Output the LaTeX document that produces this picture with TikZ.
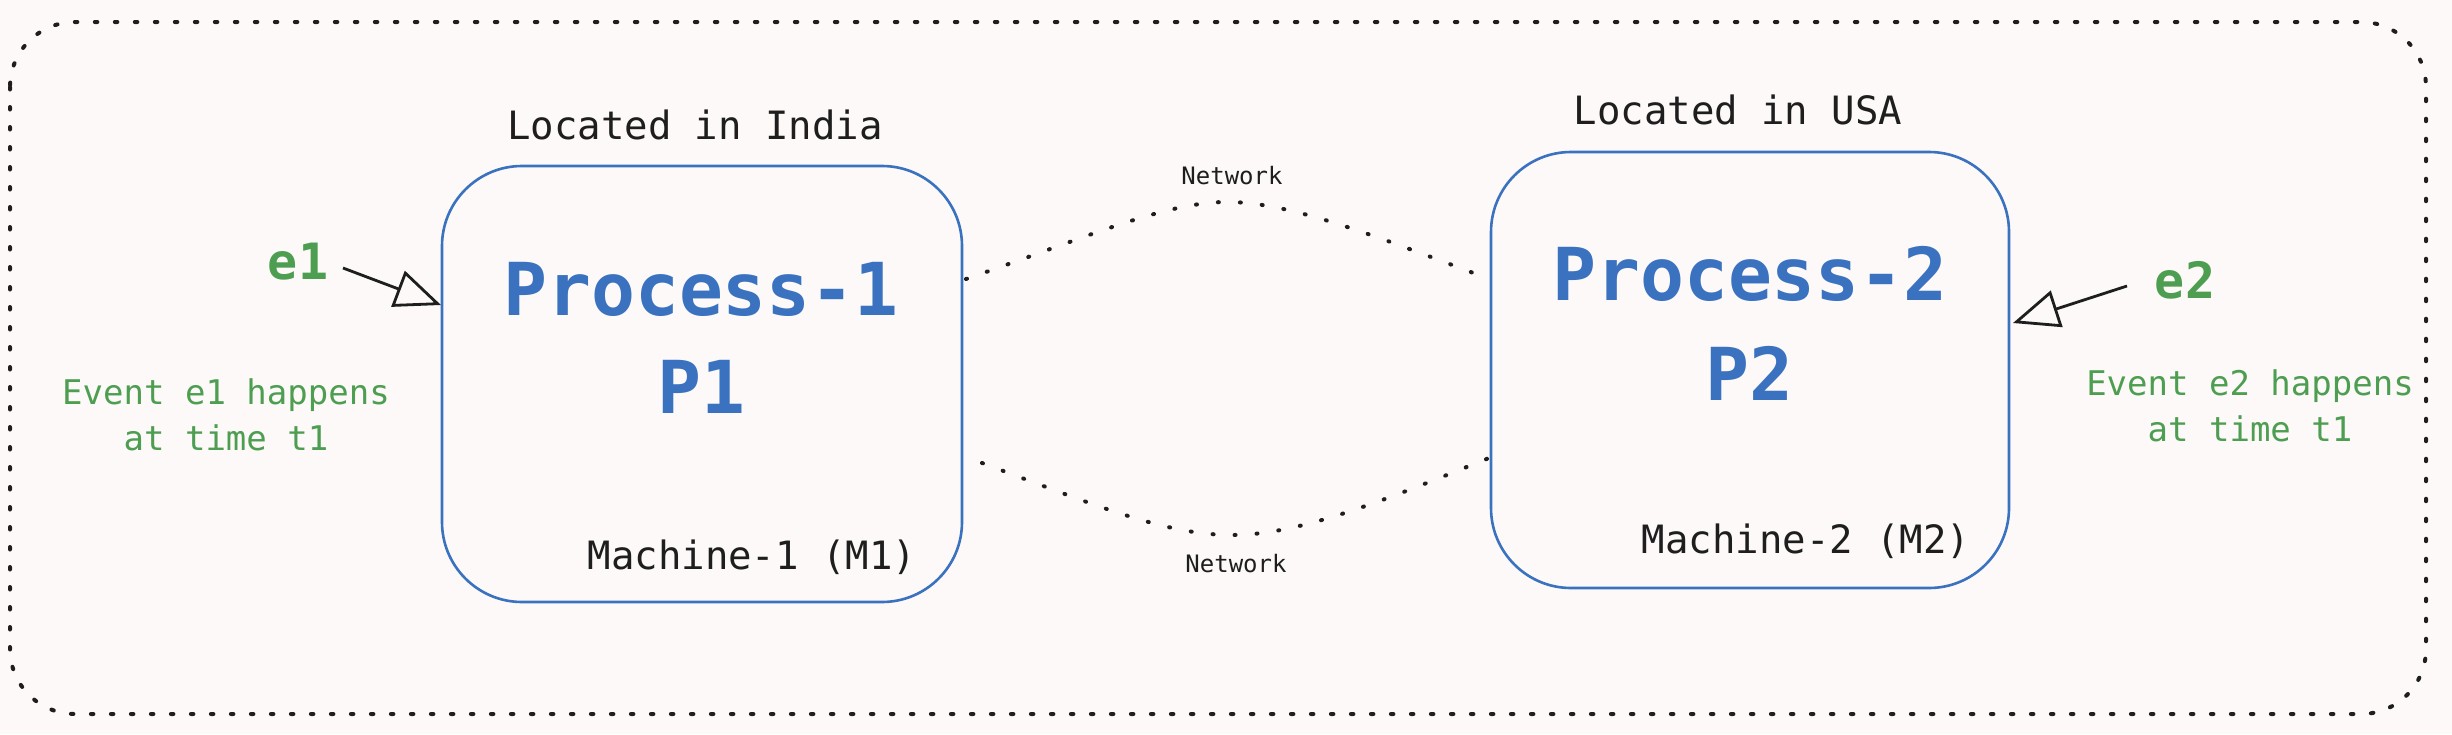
\documentclass[tikz,border=0pt]{standalone}
\usepackage{fontspec}
\newfontfamily\hand{DejaVu Sans Mono}
\newfontfamily\handb{DejaVu Sans Mono Bold}
\usetikzlibrary{arrows.meta}
\definecolor{bgc}{HTML}{FCF9F8}
\definecolor{pblue}{HTML}{3A72C0}
\definecolor{egreen}{HTML}{4E9E52}
\definecolor{ink}{HTML}{1E1E1E}
\tikzset{
  procbox/.style={draw=pblue, line width=2.6pt, rounded corners=80pt, minimum width=520pt, minimum height=436pt, inner sep=0pt},
  dotline/.style={draw=ink, line width=4pt, line cap=round, dash pattern=on 2.5pt off 17.5pt},
  netline/.style={draw=ink, line width=4pt, line cap=round, dash pattern=on 1pt off 21pt},
  bigtxt/.style={text=pblue, font=\handb\fontsize{73}{80}\selectfont, inner sep=0pt},
  labtxt/.style={text=ink, font=\hand\fontsize{39}{44}\selectfont, inner sep=0pt},
  nettxt/.style={text=ink, font=\hand\fontsize{24}{28}\selectfont, inner sep=0pt},
  evtxt/.style={text=egreen, font=\handb\fontsize{50}{56}\selectfont, inner sep=0pt},
  desctxt/.style={text=egreen, font=\hand\fontsize{34}{46}\selectfont, inner sep=0pt, align=center},
  evarrow/.style={draw=ink, line width=2.8pt, -{Triangle[open, length=46pt, width=38pt, line width=2.8pt]}},
}
\begin{document}
\begin{tikzpicture}[x=1pt, y=-1pt]
\fill[bgc] (0,0) rectangle (2452,734);
\useasboundingbox (0,0) rectangle (2452,734);
% outer boundary
\draw[dotline, rounded corners=65pt] (10,22) rectangle (2426,714);
% boxes
\node[procbox] (box1) at (702,384) {};
\node[procbox, minimum width=518pt] (box2) at (1750,370) {};
% box texts
\node[bigtxt] (p1name) at (701,289) {Process-1};
\node[bigtxt] (p1) at (701,387) {P1};
\node[bigtxt] (p2name) at (1750,274) {Process-2};
\node[bigtxt] (p2) at (1749,373) {P2};
\node[labtxt] (m1) at (752,557) {Machine-1 (M1)};
\node[labtxt] (m2) at (1806,541) {Machine-2 (M2)};
\node[labtxt] (loc1) at (695,125) {Located in India};
\node[labtxt] (loc2) at (1738,110) {Located in USA};
% network links
\coordinate (n1a) at (966,279);
\coordinate (n1b) at (1476,274);
\coordinate (n2a) at (982,463);
\coordinate (n2b) at (1489,458);
\path[netline] (n1a) .. controls (1085,238) and (1165,202) .. (1227,202) .. controls (1290,202) and (1375,236) .. (n1b);
\path[netline] (n2a) .. controls (1095,505) and (1165,535) .. (1232,535) .. controls (1300,535) and (1385,500) .. (n2b);
\node[nettxt] (net1) at (1232,176) {Network};
\node[nettxt] (net2) at (1236,564) {Network};
% events
\node[evtxt] (e1) at (298,262) {e1};
\node[evtxt] (e2) at (2185,280) {e2};
\coordinate (e1tip) at (441,305);
\coordinate (e2tip) at (2013,323);
\draw[evarrow] (343,268) -- (e1tip);
\draw[evarrow] (2127,286) -- (e2tip);
\node[desctxt] (d1) at (226,415) {Event e1 happens\\at time t1};
\node[desctxt] (d2) at (2250,406) {Event e2 happens\\at time t1};
\end{tikzpicture}
\end{document}
